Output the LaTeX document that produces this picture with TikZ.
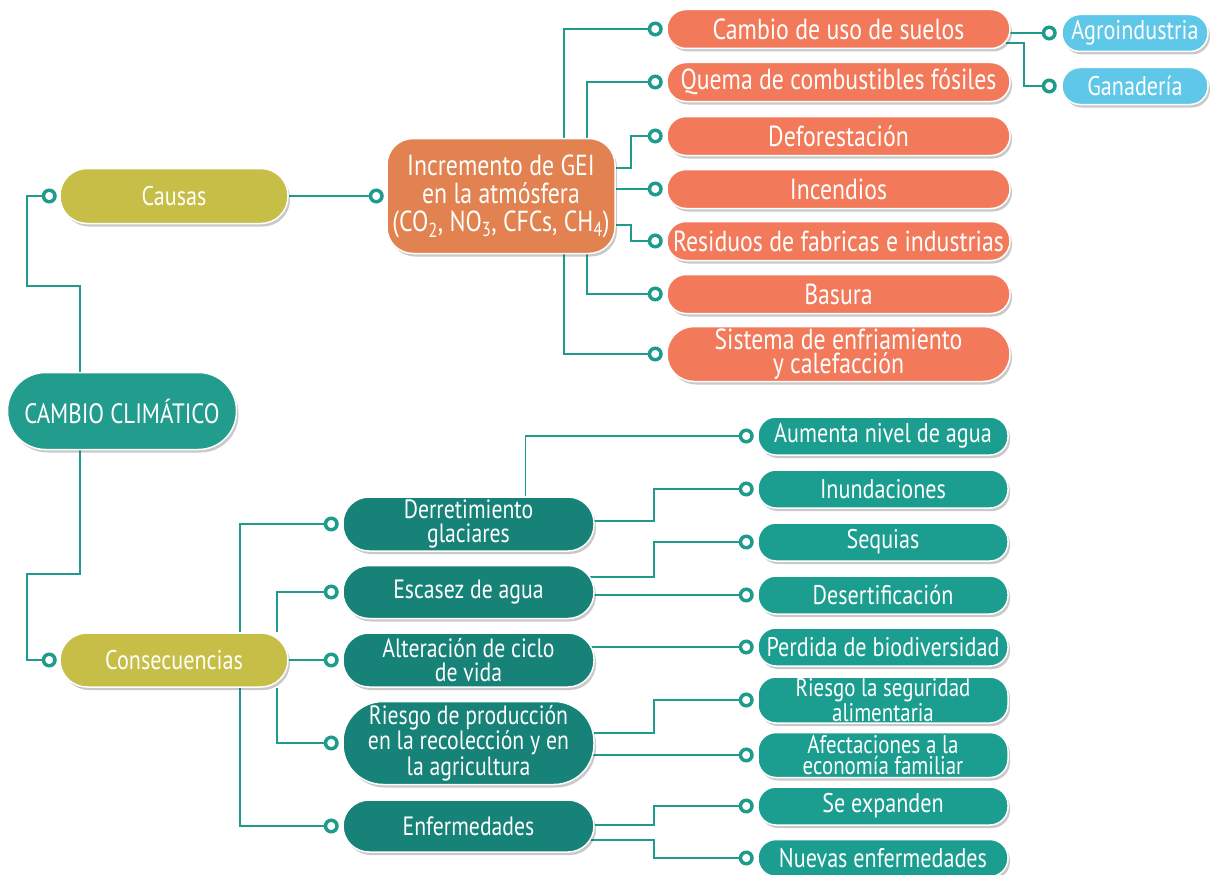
\documentclass[tikz,border=0pt]{standalone}
\usepackage{fontspec}
\setmainfont{PT Sans}[FakeStretch=0.82]
\usetikzlibrary{shadows,backgrounds}
\definecolor{rootc}{RGB}{34,156,140}
\definecolor{catc}{RGB}{198,190,70}
\definecolor{geic}{RGB}{225,130,80}
\definecolor{causec}{RGB}{242,122,90}
\definecolor{bluec}{RGB}{95,200,232}
\definecolor{midc}{RGB}{22,130,120}
\definecolor{leafc}{RGB}{27,158,143}
\definecolor{linec}{RGB}{30,155,140}
\tikzset{
  base/.style={draw=white, line width=1.5pt, text=white, align=center, inner sep=0pt,
    font=\fontsize{29}{24.5}\selectfont,
    drop shadow={shadow xshift=2pt, shadow yshift=-3pt, opacity=0.3, fill=black!70}},
  rootbox/.style={base, fill=rootc, minimum width=229pt, minimum height=77pt, rounded corners=38pt,
    font=\fontsize{28}{23}\selectfont},
  catbox/.style={base, fill=catc, minimum width=228pt, minimum height=55pt, rounded corners=27pt,
    font=\fontsize{27}{23}\selectfont},
  geibox/.style={base, fill=geic, minimum width=228pt, minimum height=115pt, rounded corners=26pt,
    font=\fontsize{29}{28}\selectfont},
  causebox/.style={base, fill=causec, minimum width=343pt, minimum height=39pt, rounded corners=19pt},
  bluebox/.style={base, fill=bluec, minimum width=146pt, minimum height=37pt, rounded corners=18pt,
    font=\fontsize{27}{23}\selectfont},
  midbox/.style={base, fill=midc, minimum width=251pt, minimum height=53pt, rounded corners=26pt,
    font=\fontsize{26.5}{23.5}\selectfont},
  leafbox/.style={base, fill=leafc, minimum width=250pt, minimum height=38pt, rounded corners=18pt,
    font=\fontsize{27}{23}\selectfont},
  smalltwo/.style={font=\fontsize{25.5}{20.5}\selectfont},
  dot/.style={circle, draw=linec, line width=3.5pt, fill=white, minimum size=11.5pt, inner sep=0pt},
  conn/.style={draw=linec, line width=1.6pt},
}
\begin{document}
\begin{tikzpicture}[x=1pt,y=-1pt]
\useasboundingbox (0,0) rectangle (1210,875);
% main nodes
\node[rootbox] (root) at (122,411) {CAMBIO CLIMÁTICO};
\node[catbox] (causas) at (174,196) {Causas};
\node[catbox, minimum height=54pt] (conse) at (174,660) {Consecuencias};
\node[geibox] (gei) at (501,196) {Incremento de GEI\\en la atmósfera\\(CO\textsubscript{2}, NO\textsubscript{3}, CFCs, CH\textsubscript{4})};
% causes
\node[causebox] (c1) at (838.5,29) {Cambio de uso de suelos};
\node[causebox] (c2) at (838.5,82) {Quema de combustibles fósiles};
\node[causebox] (c3) at (838.5,136) {Deforestación};
\node[causebox] (c4) at (838.5,189) {Incendios};
\node[causebox] (c5) at (838.5,241) {Residuos de fabricas e industrias};
\node[causebox] (c6) at (838.5,294) {Basura};
\node[causebox, minimum height=55pt, rounded corners=27pt] (c7) at (838.5,354) {Sistema de enfriamiento\\y calefacción};
\node[bluebox] (ag) at (1135,33) {Agroindustria};
\node[bluebox] (ga) at (1135,86) {Ganadería};
% consequences
\node[midbox, minimum height=54pt] (de) at (468.5,524) {Derretimiento\\glaciares};
\node[midbox] (es) at (468.5,592) {Escasez de agua};
\node[midbox, minimum height=54pt] (al) at (468.5,660) {Alteración de ciclo\\de vida};
\node[midbox, minimum height=83pt, rounded corners=40pt, font=\fontsize{26.5}{22.5}\selectfont] (ri) at (468.5,743) {Riesgo de producción\\en la recolección y en\\la agricultura};
\node[midbox, minimum height=52pt] (en) at (468.5,826) {Enfermedades};
\node[leafbox] (l1) at (883,436) {Aumenta nivel de agua};
\node[leafbox] (l2) at (883,489) {Inundaciones};
\node[leafbox] (l3) at (883,542) {Sequias};
\node[leafbox] (l4) at (883,595) {Desertificación};
\node[leafbox] (l5) at (883,647) {Perdida de biodiversidad};
\node[leafbox, minimum height=46pt, smalltwo] (l6) at (883,700) {Riesgo la seguridad\\alimentaria};
\node[leafbox, minimum height=45pt, smalltwo] (l7) at (883,755) {Afectaciones a la\\economía familiar};
\node[leafbox] (l8) at (883,806) {Se expanden};
\node[leafbox, minimum height=37pt] (l9) at (883,858) {Nuevas enfermedades};
% dots
\node[dot] (dca) at ([xshift=-10pt]causas.west) {};
\node[dot] (dco) at ([xshift=-10pt]conse.west) {};
\node[dot] (dgei) at ([xshift=-10pt]gei.west) {};
\foreach \n in {c1,c2,c3,c4,c5,c6,c7}{\node[dot] (d\n) at ([xshift=-11pt]\n.west) {};}
\foreach \n in {ag,ga}{\node[dot] (d\n) at ([xshift=-12pt]\n.west) {};}
\foreach \n in {de,es,al,ri,en}{\node[dot] (d\n) at ([xshift=-11pt]\n.west) {};}
\foreach \n in {l1,l2,l3,l4,l5,l6,l7,l8,l9}{\node[dot] (d\n) at ([xshift=-11pt]\n.west) {};}
% connectors
\begin{scope}[on background layer]
\draw[conn] ([xshift=-42pt]root.north) -- ++(0,-86) -- ++(-53,0) |- (dca);
\draw[conn] ([xshift=-42pt]root.south) -- ++(0,124) -- ++(-53,0) |- (dco);
\draw[conn] (causas.east) -- (dgei);
\draw[conn] ([xshift=63pt]gei.north) |- (dc1);
\draw[conn] ([xshift=86pt]gei.north) |- (dc2);
\draw[conn] ([xshift=-5pt,yshift=28pt]gei.east) -- ++(20,0) |- (dc3);
\draw[conn] (gei.center |- dc4) -- (dc4);
\draw[conn] ([xshift=-5pt,yshift=-29pt]gei.east) -- ++(20,0) |- (dc5);
\draw[conn] ([xshift=86pt]gei.south) |- (dc6);
\draw[conn] ([xshift=63pt]gei.south) |- (dc7);
\draw[conn] (c1.center |- dag) -- (dag);
\draw[conn] ([xshift=-5pt,yshift=-14pt]c1.east) -- ++(18,0) |- (dga);
\draw[conn] ([xshift=66pt]conse.north) |- (dde);
\draw[conn] ([xshift=103pt]conse.north) |- (des);
\draw[conn] (conse.center) -- (dal);
\draw[conn] ([xshift=103pt]conse.south) |- (dri);
\draw[conn] ([xshift=66pt]conse.south) |- (den);
\draw[conn] ([xshift=57pt]de.north) |- (dl1);
\draw[conn] ([xshift=-10pt,yshift=3pt]de.east) -- ++(69,0) |- (dl2);
\draw[conn] ([xshift=-10pt,yshift=15pt]es.east) -- ++(69,0) |- (dl3);
\draw[conn] (es.center |- dl4) -- (dl4);
\draw[conn] (al.center |- dl5) -- (dl5);
\draw[conn] ([xshift=-10pt,yshift=10pt]ri.east) -- ++(69,0) |- (dl6);
\draw[conn] (ri.center |- dl7) -- (dl7);
\draw[conn] ([xshift=-10pt,yshift=1pt]en.east) -- ++(69,0) |- (dl8);
\draw[conn] ([xshift=-10pt,yshift=-14pt]en.east) -- ++(69,0) |- (dl9);
\end{scope}
\end{tikzpicture}
\end{document}
